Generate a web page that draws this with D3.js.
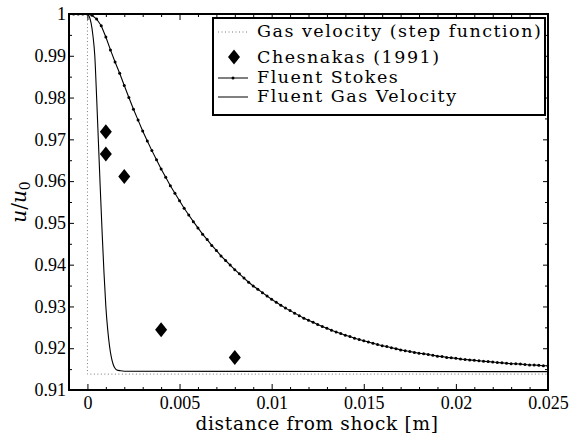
<!DOCTYPE html>
<html>
<head>
<meta charset="utf-8">
<script src="https://cdn.jsdelivr.net/npm/d3@7"></script>
<style>
  body { margin: 0; background: #fff; }
  svg { display: block; }
  .tick text { font-family: "Liberation Serif", serif; font-size: 18px; fill: #000; }
  .tick line { stroke: #000; stroke-width: 1; }
</style>
</head>
<body>
<div id="chart"></div>
<script>
// Gas velocity step function (x in m, u/u0)
const stepX = [-0.001, 0, 0, 0.025];
const stepU = [1.0, 1.0, 0.9138, 0.9138];

// Fluent gas velocity
const gasX = [-0.001, 0, 0.0001, 0.0002, 0.0003, 0.0004, 0.0005, 0.0006, 0.0007, 0.0008, 0.0009,
  0.0010, 0.0011, 0.0012, 0.0013, 0.0014, 0.0015, 0.0016, 0.0018, 0.0020, 0.025];
const gasU = [1.0, 0.9999, 0.9994, 0.9978, 0.9948, 0.9900, 0.9800, 0.9690, 0.9580, 0.9475, 0.9380,
  0.9300, 0.9245, 0.9205, 0.9178, 0.9161, 0.9152, 0.9148, 0.9146, 0.9145, 0.9144];

// Fluent Stokes (mesh points, x in m)
const stokesX = [-0.001, -0.00075, -0.0005, -0.00025, 0, 0.00025, 0.0005, 0.00075, 0.001, 0.00125,
  0.0015, 0.00175, 0.002, 0.00225, 0.0025, 0.00275, 0.003, 0.00325, 0.0035, 0.00375,
  0.004, 0.00425, 0.0045, 0.00475, 0.005, 0.00525, 0.0055, 0.00575, 0.006, 0.00625,
  0.0065, 0.00675, 0.007, 0.00725, 0.0075, 0.00775, 0.008, 0.00825, 0.0085, 0.00875,
  0.009, 0.00925, 0.0095, 0.00975, 0.01, 0.01025, 0.0105, 0.01075, 0.011, 0.01125,
  0.0115, 0.01175, 0.012, 0.01225, 0.0125, 0.01275, 0.013, 0.01325, 0.0135, 0.01375,
  0.014, 0.01425, 0.0145, 0.01475, 0.015, 0.01525, 0.0155, 0.01575, 0.016, 0.01625,
  0.0165, 0.01675, 0.017, 0.01725, 0.0175, 0.01775, 0.018, 0.01825, 0.0185, 0.01875,
  0.019, 0.01925, 0.0195, 0.01975, 0.02, 0.02025, 0.0205, 0.02075, 0.021, 0.02125,
  0.0215, 0.02175, 0.022, 0.02225, 0.0225, 0.02275, 0.023, 0.02325, 0.0235, 0.02375,
  0.024, 0.02425, 0.0245, 0.02475, 0.025];
const stokesU = [1.0, 1.0, 1.0, 1.0, 1.0, 0.9997, 0.9988, 0.9972, 0.9945, 0.9914,
  0.9885, 0.9858, 0.9829, 0.9800, 0.9772, 0.9746, 0.9720, 0.9696, 0.9673, 0.9651,
  0.9629, 0.9609, 0.9589, 0.9571, 0.9553, 0.9535, 0.9519, 0.9503, 0.9488, 0.9473,
  0.9460, 0.9446, 0.9434, 0.9421, 0.9410, 0.9399, 0.9388, 0.9378, 0.9368, 0.9358,
  0.9349, 0.9341, 0.9333, 0.9325, 0.9317, 0.9310, 0.9303, 0.9296, 0.9290, 0.9284,
  0.9278, 0.9272, 0.9267, 0.9262, 0.9257, 0.9252, 0.9248, 0.9243, 0.9239, 0.9235,
  0.9231, 0.9228, 0.9224, 0.9221, 0.9218, 0.9215, 0.9212, 0.9209, 0.9206, 0.9204,
  0.9201, 0.9199, 0.9196, 0.9194, 0.9192, 0.9190, 0.9188, 0.9187, 0.9185, 0.9183,
  0.9181, 0.9180, 0.9178, 0.9177, 0.9176, 0.9174, 0.9173, 0.9172, 0.9171, 0.9170,
  0.9169, 0.9168, 0.9167, 0.9166, 0.9165, 0.9164, 0.9163, 0.9163, 0.9162, 0.9161,
  0.9160, 0.9160, 0.9159, 0.9158, 0.9158];

// Chesnakas (1991) measurements
const expX = [0.001, 0.001, 0.002, 0.004, 0.008];
const expU = [0.9718, 0.9665, 0.9611, 0.9244, 0.9178];

// Ticks
const xTicks = [0, 0.005, 0.01, 0.015, 0.02, 0.025];
const xTickLabels = ["0", "0.005", "0.01", "0.015", "0.02", "0.025"];
const xMinor = [-0.001, 0.001, 0.002, 0.003, 0.004, 0.006, 0.007, 0.008, 0.009, 0.011, 0.012, 0.013, 0.014,
  0.016, 0.017, 0.018, 0.019, 0.021, 0.022, 0.023, 0.024];
const yTicks = [0.91, 0.92, 0.93, 0.94, 0.95, 0.96, 0.97, 0.98, 0.99, 1];
const yTickLabels = ["0.91", "0.92", "0.93", "0.94", "0.95", "0.96", "0.97", "0.98", "0.99", "1"];
const yMinor = [0.915, 0.925, 0.935, 0.945, 0.955, 0.965, 0.975, 0.985, 0.995];

const legendLabels = ["Gas velocity (step function)", "Chesnakas (1991)", "Fluent Stokes", "Fluent Gas Velocity"];

const W = 571, H = 439;
const mLeft = 69, mRight = 548, mTop = 14, mBottom = 390;

const x = d3.scaleLinear().domain([-0.001, 0.025]).range([mLeft, mRight]);
const y = d3.scaleLinear().domain([0.91, 1]).range([mBottom, mTop]);

const svg = d3.select("#chart").append("svg")
  .attr("width", W).attr("height", H)
  .style("background", "#fff");

svg.append("clipPath").attr("id", "clip")
  .append("rect").attr("x", mLeft).attr("y", mTop - 1)
  .attr("width", mRight - mLeft).attr("height", mBottom - mTop + 2);

const plot = svg.append("g").attr("clip-path", "url(#clip)");

const line = d3.line().x(d => x(d[0])).y(d => y(d[1]));

// step function
plot.append("path")
  .datum(stepX.map((v, i) => [v, stepU[i]]))
  .attr("d", line)
  .attr("fill", "none").attr("stroke", "#777").attr("stroke-width", 1)
  .attr("stroke-dasharray", "1,2.5");

// Fluent gas velocity
plot.append("path")
  .datum(gasX.map((v, i) => [v, gasU[i]]))
  .attr("d", d3.line().x(d => x(d[0])).y(d => y(d[1])).curve(d3.curveMonotoneX))
  .attr("fill", "none").attr("stroke", "#000").attr("stroke-width", 1.1);

// Fluent Stokes
const stokes = stokesX.map((v, i) => [v, stokesU[i]]);
plot.append("path")
  .datum(stokes)
  .attr("d", line)
  .attr("fill", "none").attr("stroke", "#000").attr("stroke-width", 1.1);
plot.selectAll(".sdot").data(stokes).enter().append("circle")
  .attr("cx", d => x(d[0])).attr("cy", d => y(d[1]))
  .attr("r", 1.5).attr("fill", "#000");

// diamonds
const diamond = (cx, cy) => `M${cx},${cy - 7.5}L${cx + 6},${cy}L${cx},${cy + 7.5}L${cx - 6},${cy}Z`;
plot.selectAll(".dia").data(expX.map((v, i) => [v, expU[i]])).enter().append("path")
  .attr("d", d => diamond(x(d[0]), y(d[1])))
  .attr("fill", "#000");

// axes
const xLab = d3.scaleOrdinal().domain(xTicks).range(xTickLabels);
const yLab = d3.scaleOrdinal().domain(yTicks).range(yTickLabels);

svg.append("g").attr("transform", `translate(0,${mBottom})`)
  .call(d3.axisBottom(x).tickValues(xTicks).tickSize(-6).tickPadding(6).tickFormat(d => xLab(d)));
svg.append("g").attr("transform", `translate(0,${mBottom})`)
  .call(d3.axisBottom(x).tickValues(xMinor).tickSize(-3).tickFormat(""));
svg.append("g").attr("transform", `translate(0,${mTop})`)
  .call(d3.axisTop(x).tickValues(xTicks).tickSize(-6).tickFormat(""));
svg.append("g").attr("transform", `translate(0,${mTop})`)
  .call(d3.axisTop(x).tickValues(xMinor).tickSize(-3).tickFormat(""));

svg.append("g").attr("transform", `translate(${mLeft},0)`)
  .call(d3.axisLeft(y).tickValues(yTicks).tickSize(-5).tickPadding(3).tickFormat(d => yLab(d)));
svg.append("g").attr("transform", `translate(${mLeft},0)`)
  .call(d3.axisLeft(y).tickValues(yMinor).tickSize(-3).tickFormat(""));
svg.append("g").attr("transform", `translate(${mRight},0)`)
  .call(d3.axisRight(y).tickValues(yTicks).tickSize(-5).tickFormat(""));
svg.append("g").attr("transform", `translate(${mRight},0)`)
  .call(d3.axisRight(y).tickValues(yMinor).tickSize(-3).tickFormat(""));

svg.selectAll(".domain").remove();

// frame
svg.append("rect")
  .attr("x", mLeft).attr("y", mTop).attr("width", mRight - mLeft).attr("height", mBottom - mTop)
  .attr("fill", "none").attr("stroke", "#000").attr("stroke-width", 2);

// legend
const lg = svg.append("g");
lg.append("rect").attr("x", 213).attr("y", 18).attr("width", 332).attr("height", 97)
  .attr("fill", "#fff").attr("stroke", "#000").attr("stroke-width", 2);
const rowY = [32, 57, 78, 97];
const textY = [37, 63, 83, 102];
lg.append("line").attr("x1", 218).attr("x2", 248).attr("y1", rowY[0]).attr("y2", rowY[0])
  .attr("stroke", "#777").attr("stroke-dasharray", "1,2.5");
lg.append("path").attr("d", diamond(234, rowY[1])).attr("fill", "#000");
lg.append("line").attr("x1", 218).attr("x2", 248).attr("y1", rowY[2]).attr("y2", rowY[2])
  .attr("stroke", "#000");
lg.append("circle").attr("cx", 233).attr("cy", rowY[2]).attr("r", 1.5).attr("fill", "#000");
lg.append("line").attr("x1", 218).attr("x2", 248).attr("y1", rowY[3]).attr("y2", rowY[3])
  .attr("stroke", "#000");
lg.selectAll(".lt").data(legendLabels).enter().append("text")
  .attr("x", 257).attr("y", (d, i) => textY[i])
  .style("font-family", "'DejaVu Serif', serif").style("font-size", "17.5px")
  .style("letter-spacing", "1.5px")
  .text(d => d);

// axis labels
svg.append("text")
  .attr("x", 317).attr("y", 430).attr("text-anchor", "middle")
  .style("font-family", "'DejaVu Serif', serif").style("font-size", "18.5px")
  .style("letter-spacing", "0.7px")
  .text("distance from shock [m]");

const yl = svg.append("text")
  .attr("transform", "translate(26,202) rotate(-90)")
  .attr("text-anchor", "middle")
  .style("font-family", "'DejaVu Serif', serif").style("font-size", "20px").style("font-style", "italic");
yl.append("tspan").text("u");
yl.append("tspan").text("/").style("font-style", "normal");
yl.append("tspan").text("u");
yl.append("tspan").attr("dy", 4).style("font-size", "14px").style("font-style", "normal").text("0");
</script>
</body>
</html>
